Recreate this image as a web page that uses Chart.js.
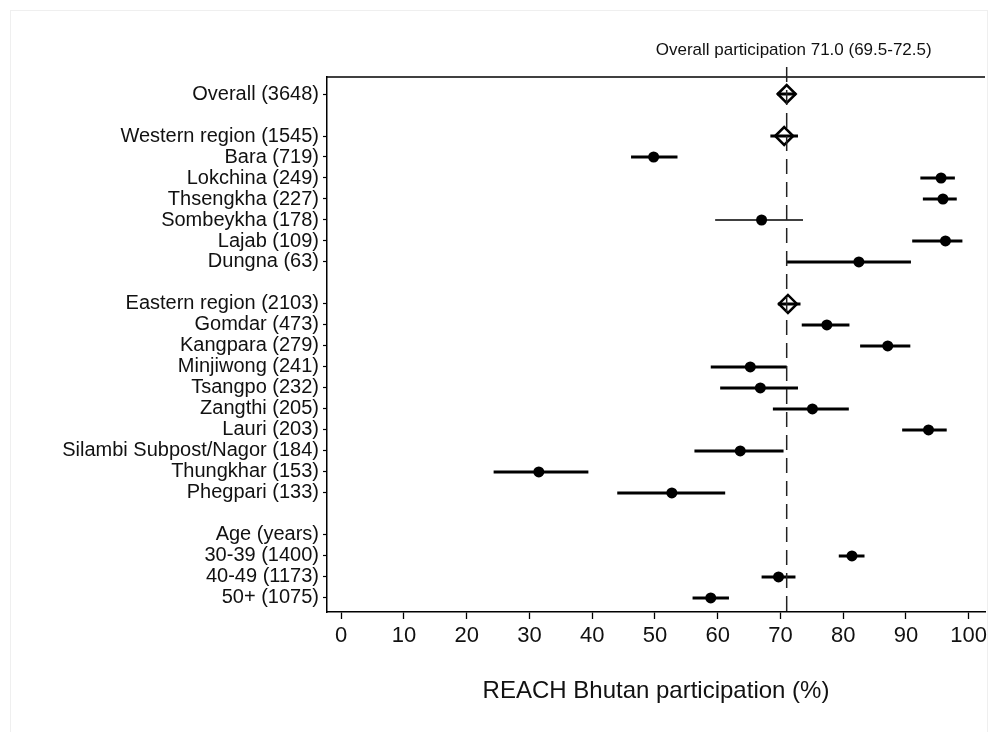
<!DOCTYPE html>
<html>
<head>
<meta charset="utf-8">
<script src="https://cdn.jsdelivr.net/npm/chart.js@4"></script>
<style>
  html, body { margin: 0; padding: 0; background: #fff; }
  #wrap { width: 1000px; height: 732px; position: relative; }
</style>
</head>
<body>
<div id="wrap"><canvas id="c" width="1000" height="732"></canvas></div>
<script>
// ---- data ----
const rowLabels = ['Overall (3648)', '', 'Western region (1545)', 'Bara (719)', 'Lokchina (249)', 'Thsengkha (227)', 'Sombeykha (178)', 'Lajab (109)', 'Dungna (63)', '', 'Eastern region (2103)', 'Gomdar (473)', 'Kangpara (279)', 'Minjiwong (241)', 'Tsangpo (232)', 'Zangthi (205)', 'Lauri (203)', 'Silambi Subpost/Nagor (184)', 'Thungkhar (153)', 'Phegpari (133)', '', 'Age (years)', '30-39 (1400)', '40-49 (1173)', '50+ (1075)'];
const rowKind = ['pooled', '', 'pooled', 'site', 'site', 'site', 'site', 'site', 'site', '', 'pooled', 'site', 'site', 'site', 'site', 'site', 'site', 'site', 'site', 'site', '', 'header', 'site', 'site', 'site'];
const estimate = [71.0, null, 70.6, 49.8, 95.6, 95.9, 67.0, 96.3, 82.5, null, 71.2, 77.4, 87.1, 65.2, 66.8, 75.1, 93.6, 63.6, 31.5, 52.7, null, null, 81.4, 69.7, 58.9];
const ciLow    = [69.5, null, 68.4, 46.2, 92.3, 92.7, 59.6, 91.0, 71.0, null, 69.6, 73.4, 82.7, 58.9, 60.4, 68.8, 89.4, 56.3, 24.3, 44.0, null, null, 79.3, 67.0, 56.0];
const ciHigh   = [72.5, null, 72.8, 53.6, 97.8, 98.1, 73.6, 99.0, 90.8, null, 73.2, 81.0, 90.7, 71.0, 72.8, 80.9, 96.5, 70.5, 39.4, 61.2, null, null, 83.4, 72.4, 61.8];
const xTicks = [0, 10, 20, 30, 40, 50, 60, 70, 80, 90, 100];
const xTitle = 'REACH Bhutan participation (%)';
const refLabel = 'Overall participation';

// ---- build ----
const FONT = '"Liberation Sans", Arial, Helvetica, sans-serif';
const thinRows = [6];
function segs(filterFn) {
  const out = [];
  rowLabels.forEach((_, i) => {
    if (ciLow[i] == null || !filterFn(i)) return;
    out.push({x: ciLow[i], y: i}, {x: ciHigh[i], y: i}, {x: null, y: null});
  });
  return out;
}
const sitePts = [], pooledPts = [];
rowLabels.forEach((_, i) => {
  if (estimate[i] == null) return;
  (rowKind[i] === 'pooled' ? pooledPts : sitePts).push({x: estimate[i], y: i});
});
const labelledRows = rowLabels.map((l, i) => l ? i : null).filter(v => v !== null);

const decor = {
  id: 'decor',
  beforeDraw(chart) {
    const ctx = chart.ctx;
    ctx.save();
    ctx.strokeStyle = '#efefef';
    ctx.lineWidth = 1;
    ctx.strokeRect(10.5, 10.5, 977, 740);
    ctx.restore();
  },
  afterDatasetsDraw(chart) {
    const {ctx, chartArea: a, scales: {x}} = chart;
    ctx.save();
    // top frame line
    ctx.strokeStyle = '#000';
    ctx.lineWidth = 1.5;
    ctx.beginPath();
    ctx.moveTo(a.left, a.top);
    ctx.lineTo(a.right, a.top);
    ctx.stroke();
    // reference line at overall estimate
    const px = x.getPixelForValue(estimate[0]);
    ctx.strokeStyle = '#222';
    ctx.lineWidth = 1.5;
    ctx.setLineDash([15, 8]);
    ctx.beginPath();
    ctx.moveTo(px, a.top - 10);
    ctx.lineTo(px, a.bottom);
    ctx.stroke();
    ctx.setLineDash([]);
    // header text
    ctx.fillStyle = '#111';
    ctx.font = '17px ' + FONT;
    ctx.textAlign = 'center';
    ctx.textBaseline = 'middle';
    const txt = refLabel + ' ' + estimate[0].toFixed(1) + ' (' + ciLow[0].toFixed(1) + '-' + ciHigh[0].toFixed(1) + ')';
    ctx.fillText(txt, px + 7, 50);
    ctx.restore();
  }
};

new Chart(document.getElementById('c'), {
  type: 'scatter',
  data: {
    datasets: [
      { data: segs(i => !thinRows.includes(i)), showLine: true, borderColor: '#000', borderWidth: 3, pointRadius: 0, borderCapStyle: 'butt' },
      { data: segs(i => thinRows.includes(i)), showLine: true, borderColor: '#000', borderWidth: 1.3, pointRadius: 0 },
      { data: sitePts, pointStyle: 'circle', pointRadius: 5.5, backgroundColor: '#000', borderColor: '#000', borderWidth: 0 },
      { data: pooledPts, pointStyle: 'rectRot', pointRadius: 9, backgroundColor: 'rgba(0,0,0,0)', borderColor: '#000', borderWidth: 2.5 }
    ]
  },
  options: {
    responsive: false,
    animation: false,
    devicePixelRatio: 1,
    layout: { padding: { top: 77, right: 15, left: 0, bottom: 0 } },
    plugins: { legend: { display: false }, tooltip: { enabled: false } },
    scales: {
      x: {
        type: 'linear', position: 'bottom', min: -2.25, max: 102.6,
        afterBuildTicks: s => { s.ticks = xTicks.map(v => ({value: v})); },
        afterFit: s => { s.height = 120; },
        ticks: { color: '#111', font: { family: FONT, size: 22, lineHeight: 1.2 }, padding: 4, autoSkip: false, maxRotation: 0 },
        grid: { display: true, drawOnChartArea: false, tickLength: 7, tickColor: '#000', tickWidth: 1.3 },
        border: { display: true, color: '#000', width: 1.5 },
        title: { display: true, text: xTitle, color: '#111', font: { family: FONT, size: 24, lineHeight: 1.2 }, padding: { top: 4, bottom: 26 } }
      },
      y: {
        type: 'linear', reverse: true, min: -0.81, max: 24.67,
        afterBuildTicks: s => { s.ticks = labelledRows.map(v => ({value: v})); },
        afterFit: s => { s.width = 327; },
        ticks: { color: '#111', font: { family: FONT, size: 20 }, padding: 4, autoSkip: false, callback: v => rowLabels[v] },
        grid: { display: true, drawOnChartArea: false, tickLength: 4, tickColor: '#000', tickWidth: 1.2 },
        border: { display: true, color: '#000', width: 1.5 }
      }
    }
  },
  plugins: [decor]
});
</script>
</body>
</html>
